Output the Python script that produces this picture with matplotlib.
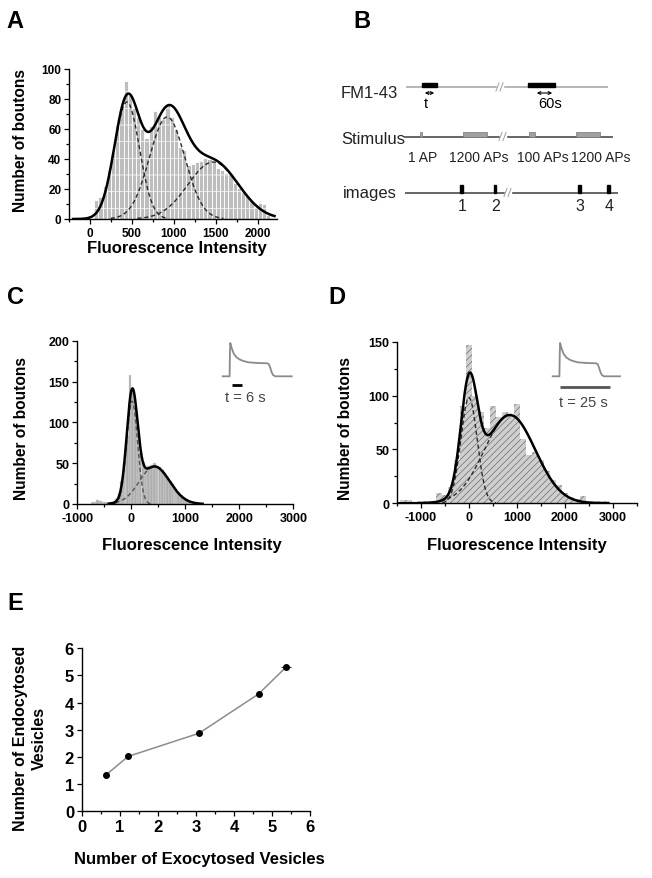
import numpy as np
import matplotlib
matplotlib.use("Agg")
import matplotlib.pyplot as plt
from matplotlib.patches import Rectangle, FancyArrowPatch
from matplotlib.ticker import MultipleLocator

plt.rcParams['font.family'] = ['Liberation Sans', 'DejaVu Sans']
plt.rcParams['font.weight'] = 'bold'
plt.rcParams['hatch.linewidth'] = 0.5
plt.rcParams['axes.unicode_minus'] = False

W, H = 652, 879

# --- A: bouton histogram with three-gaussian fit
a_centers = np.arange(75, 2200, 50)
a_counts = [13, 15, 22, 33, 45, 63, 75, 92, 83, 74,
            68, 60, 54, 62, 72, 68, 67, 76, 68, 60,
            48, 46, 36, 37, 38, 39, 41, 40, 38, 34,
            33, 31, 30, 24, 21, 18, 16, 12, 8, 11,
            10, 3, 1]
a_fit = [(78, 440, 150), (68, 920, 210), (38, 1470, 300)]   # amp, mean, sd

# --- C: 6 s loading
c_centers = np.arange(-725, 1250, 50)
c_counts = [2, 3, 5, 4, 2, 3, 1, 2, 3, 6,
            14, 28, 50, 85, 158, 140, 115, 85, 62, 52,
            44, 46, 48, 50, 47, 45, 42, 38, 33, 28,
            24, 18, 15, 11, 8, 6, 4, 3, 2, 1]
c_fit = [(126, 15, 100), (46, 430, 280)]

# --- D: 25 s loading
d_centers = np.arange(-1375, 2900, 125)
d_counts = [3, 3, 0, 2, 2, 2, 10, 8, 15, 40, 90,
            147, 100, 85, 70, 90, 80, 85, 82, 92, 60,
            45, 48, 40, 30, 22, 17, 10, 6, 4, 7,
            2, 2, 2, 2]
d_fit = [(98, 0, 170), (82, 850, 530)]

# --- E: endocytosed vs exocytosed vesicles
e_exo = [0.65, 1.22, 3.08, 4.65, 5.38]
e_endo = [1.35, 2.02, 2.87, 4.32, 5.32]
e_exo_err = [0.02, 0.03, 0.03, 0.07, 0.13]

# inset trace (arbitrary units)
trace_t = [0, 10, 10.5, 11, 13, 16, 20, 25, 30, 37, 50, 65, 67, 69, 71, 73, 76, 100]
trace_f = [0, 0, 0.7, 1.0, 0.85, 0.68, 0.57, 0.5, 0.46, 0.42, 0.40, 0.39, 0.36, 0.25,
           0.12, 0.04, 0.0, 0.0]


def gauss(x, amp, mu, sd):
    return amp * np.exp(-0.5 * ((x - mu) / sd) ** 2)


fig = plt.figure(figsize=(W / 100, H / 100), dpi=100)


def px_axes(l, t, r, b):
    return fig.add_axes([l / W, 1 - b / H, (r - l) / W, (b - t) / H])


def style(ax, fs):
    ax.spines['top'].set_visible(False)
    ax.spines['right'].set_visible(False)
    ax.spines['left'].set_linewidth(1)
    ax.spines['bottom'].set_linewidth(1)
    ax.tick_params(which='both', direction='out', labelsize=fs, width=0.9, pad=2)
    ax.tick_params(which='major', length=3.5)
    ax.tick_params(which='minor', length=2)


def draw_fit(ax, xs, params, dash_col='#2a2a2a'):
    total = np.zeros_like(xs)
    for amp, mu, sd in params:
        g = gauss(xs, amp, mu, sd)
        total += g
        m = g > 0.4
        ax.plot(xs[m], g[m], color=dash_col, lw=1.0, ls=(0, (3, 2)))
    ax.plot(xs, total, color='black', lw=1.8)


# panel A
axA = px_axes(69, 70, 277, 220)
axA.bar(a_centers, a_counts, width=50, color='#bdbdbd', edgecolor='white',
        linewidth=0.6, hatch='-')
draw_fit(axA, np.linspace(-200, 2200, 500), a_fit)
axA.set_xlim(-250, 2230)
axA.set_ylim(0, 100)
axA.set_xticks([0, 500, 1000, 1500, 2000])
axA.set_yticks(range(0, 101, 20))
axA.xaxis.set_minor_locator(MultipleLocator(250))
axA.yaxis.set_minor_locator(MultipleLocator(10))
style(axA, 8.5)

# panel C
axC = px_axes(77.3, 341.7, 293.3, 505)
axC.bar(c_centers, c_counts, width=50, color='#adadad', edgecolor='#dcdcdc',
        linewidth=0.3, hatch='|')
draw_fit(axC, np.linspace(-420, 1320, 500), c_fit, dash_col='#555555')
axC.set_xlim(-1000, 3000)
axC.set_ylim(0, 200)
axC.set_xticks([-1000, 0, 1000, 2000, 3000])
axC.set_yticks([0, 50, 100, 150, 200])
axC.xaxis.set_minor_locator(MultipleLocator(500))
axC.yaxis.set_minor_locator(MultipleLocator(25))
style(axC, 9)

# panel D
axD = px_axes(397, 342.7, 637, 504.3)
axD.bar(d_centers, d_counts, width=125, color='#cfcfcf', edgecolor='#6e6e6e',
        linewidth=0, hatch='/////')
draw_fit(axD, np.linspace(-1450, 2900, 600), d_fit)
axD.set_xlim(-1500, 3500)
axD.set_ylim(0, 150)
axD.set_xticks([-1000, 0, 1000, 2000, 3000])
axD.set_yticks([0, 50, 100, 150])
axD.xaxis.set_minor_locator(MultipleLocator(500))
axD.yaxis.set_minor_locator(MultipleLocator(25))
style(axD, 9)

# panel E
axE = px_axes(81.7, 649.3, 310, 812.3)
axE.plot(e_exo, e_endo, color='#8c8c8c', lw=1.1, zorder=2)
axE.errorbar(e_exo, e_endo, xerr=e_exo_err, fmt='o', ms=4, color='black',
             ecolor='#333333', elinewidth=0.8, capsize=0, zorder=3)
axE.set_xlim(0, 6)
axE.set_ylim(0, 6)
axE.set_xticks(range(0, 7))
axE.set_yticks(range(0, 7))
axE.xaxis.set_minor_locator(MultipleLocator(0.5))
style(axE, 12)

# insets with the loading trace
insets = [((222.7, 344, 291.7, 377.3), (13, 28.4), -0.25, 32.8, -0.63, 't = 6 s', 'black'),
          ((552.7, 344, 620, 377.3), (10.8, 85.1), -0.33, 45.6, -0.76, 't = 25 s', '#555555')]
for rect, bar_x, bar_y, tx, ty, label, bar_col in insets:
    ai = px_axes(*rect)
    ai.plot(trace_t, trace_f, color='#8a8a8a', lw=1.3, clip_on=False)
    ai.plot(bar_x, [bar_y, bar_y], color=bar_col, lw=2, clip_on=False,
            solid_capstyle='butt')
    ai.text(tx, ty, label, ha='center', va='center', fontsize=10.5,
            fontweight='normal', color='#444444')
    ai.set_xlim(0, 100)
    ai.set_ylim(0, 1)
    ai.axis('off')

# overlay in pixel space: panel letters, axis titles, schematic B
ov = fig.add_axes([0, 0, 1, 1], zorder=10)
ov.set_xlim(0, W)
ov.set_ylim(H, 0)
ov.axis('off')
ov.patch.set_alpha(0)

for letter, x, y in [('A', 15, 21), ('B', 362, 21), ('C', 16, 298),
                     ('D', 337, 298), ('E', 15, 604)]:
    ov.text(x, y, letter, fontsize=17, ha='center', va='center')

for x, y in [(21, 141), (22, 429), (345, 429)]:
    ov.text(x, y, 'Number of boutons', rotation=90, fontsize=11.2,
            ha='center', va='center')
for x, y in [(177, 249), (192, 546), (517, 546)]:
    ov.text(x, y, 'Fluorescence Intensity', fontsize=12, ha='center', va='center')
ov.text(199, 860, 'Number of Exocytosed Vesicles', fontsize=12,
        ha='center', va='center')
ov.text(30, 738, 'Number of Endocytosed\nVesicles', rotation=90, fontsize=11.5,
        ha='center', va='center', multialignment='center', linespacing=1.25)

# schematic B
rows = {'FM1-43': (341, 93, 407, 607, 88, '#b5b5b5', 500),
        'Stimulus': (341, 140, 405, 612, 137.5, '#666666', 503),
        'images': (343, 194, 406, 617, 193.5, '#666666', 508)}
for name, (tx, ty, x0, x1, ly, col, xb) in rows.items():
    ov.text(tx, ty, name, fontsize=12, fontweight='normal', color='#222222',
            ha='left', va='center')
    ov.plot([x0, x1], [ly, ly], color=col, lw=1.4)
    ov.add_patch(Rectangle((xb - 3, ly - 2), 6, 4, color='white', zorder=3))
    for dx in (-2.5, 1.5):
        ov.plot([xb + dx - 1.5, xb + dx + 1.5], [ly + 4, ly - 4], color='#aaaaaa',
                lw=0.8, zorder=4)

fm_bars = [(422, 437), (528, 555)]
for x0, x1 in fm_bars:
    ov.add_patch(Rectangle((x0, 84), x1 - x0, 4, color='black', zorder=5))
for x0, x1 in [(422, 437), (534, 555)]:
    ov.add_patch(FancyArrowPatch((x0, 94), (x1, 94), arrowstyle='<->',
                                 mutation_scale=5, lw=0.8, color='black'))
ov.text(426, 104, 't', fontsize=10.5, fontweight='normal', ha='center', va='center')
ov.text(550, 104, '60s', fontsize=10.5, fontweight='normal', ha='center', va='center')

stim_boxes = [(420, 421.8), (463, 487), (529, 535), (576, 600)]
for x0, x1 in stim_boxes:
    ov.add_patch(Rectangle((x0, 132.5), x1 - x0, 5, facecolor='#a0a0a0',
                           edgecolor='#777777', lw=0.5, zorder=5))
stim_labels = [('1 AP', 423), ('1200 APs', 478.5), ('100 APs', 543), ('1200 APs', 601)]
for lab, x in stim_labels:
    ov.text(x, 158, lab, fontsize=10, fontweight='normal', color='#222222',
            ha='center', va='center')

image_ticks = [461.7, 495, 579.3, 608.3]
for i, x in enumerate(image_ticks):
    ov.add_patch(Rectangle((x - 1.3, 185.5), 2.6, 8, color='black', zorder=5))
    ov.text(x + 0.5, 207, str(i + 1), fontsize=11.5, fontweight='normal',
            color='#222222', ha='center', va='center')

fig.savefig('out.png', dpi=100)
